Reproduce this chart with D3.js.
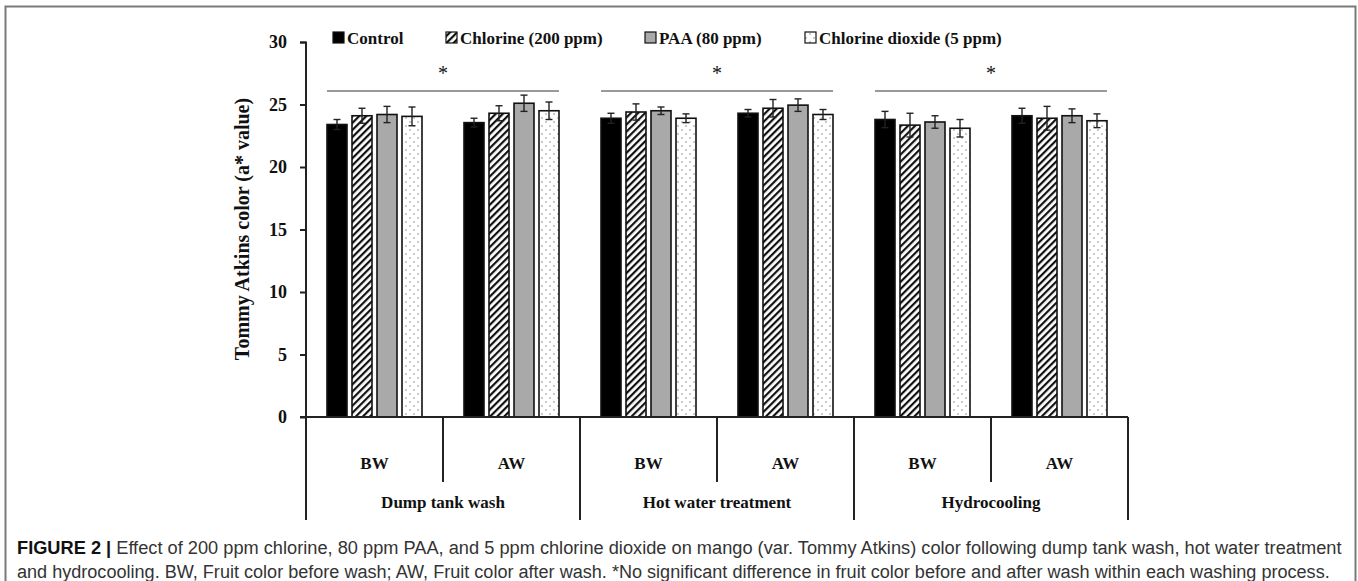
<!DOCTYPE html>
<html>
<head>
<meta charset="utf-8">
<script src="https://cdn.jsdelivr.net/npm/d3@7"></script>
<style>
  body { margin: 0; background: #fff; }
  svg { display: block; }
</style>
</head>
<body>
<svg width="1358" height="581"></svg>
<script>
// categories
const processes = ["Dump tank wash", "Hot water treatment", "Hydrocooling"];
const stages = ["BW", "AW"];
const treatments = ["Control", "Chlorine (200 ppm)", "PAA (80 ppm)", "Chlorine dioxide (5 ppm)"];

// a* values, order: DT-BW, DT-AW, HW-BW, HW-AW, HC-BW, HC-AW
const control  = [23.4, 23.55, 23.9, 24.3, 23.8, 24.1];
const chlorine = [24.1, 24.3, 24.4, 24.7, 23.35, 23.9];
const paa      = [24.2, 25.1, 24.5, 24.95, 23.6, 24.1];
const clo2     = [24.05, 24.5, 23.9, 24.2, 23.1, 23.7];

const controlErr  = [0.4, 0.35, 0.4, 0.3, 0.65, 0.6];
const chlorineErr = [0.6, 0.6, 0.65, 0.7, 0.95, 0.95];
const paaErr      = [0.65, 0.65, 0.3, 0.5, 0.5, 0.55];
const clo2Err     = [0.75, 0.7, 0.35, 0.4, 0.7, 0.55];

const yTicks = [0, 5, 10, 15, 20, 25, 30];
const sigMarks = ["*", "*", "*"];

const series = [control, chlorine, paa, clo2];
const errs = [controlErr, chlorineErr, paaErr, clo2Err];

const cats = [];
processes.forEach(p => stages.forEach(s => cats.push(p + "|" + s)));

const rows = [];
cats.forEach((c, i) => treatments.forEach((t, j) => {
    rows.push({ cat: c, t: t, j: j, v: series[j][i], e: errs[j][i] });
}));

const svg = d3.select("svg");
const serif = "'Liberation Serif', 'Times New Roman', serif";

// patterns
const defs = svg.append("defs");
const hatch = defs.append("pattern")
    .attr("id", "hatch")
    .attr("patternUnits", "userSpaceOnUse")
    .attr("width", 5).attr("height", 5)
    .attr("patternTransform", "rotate(45)");
hatch.append("rect").attr("width", 5).attr("height", 5).attr("fill", "#fff");
hatch.append("rect").attr("width", 2.2).attr("height", 5).attr("fill", "#111");

const dots = defs.append("pattern")
    .attr("id", "dots")
    .attr("patternUnits", "userSpaceOnUse")
    .attr("width", 8).attr("height", 8);
dots.append("rect").attr("width", 8).attr("height", 8).attr("fill", "#fff");
dots.append("circle").attr("cx", 2).attr("cy", 2).attr("r", 0.8).attr("fill", "#888");
dots.append("circle").attr("cx", 6).attr("cy", 6).attr("r", 0.8).attr("fill", "#888");

const fills = ["#000", "url(#hatch)", "#a9a9a9", "url(#dots)"];

// frame
svg.append("path")
    .attr("d", "M5.5,600 V6.5 H1355.5 V600")
    .attr("fill", "none")
    .attr("stroke", "#7a7a7a")
    .attr("stroke-width", 2);

const x0 = d3.scaleBand().domain(cats).range([306, 1128]);
const x1 = d3.scaleBand().domain(treatments)
    .range([0, 95]).paddingInner(0.2);
const xOff = (x0.bandwidth() - 95) / 2;

const y = d3.scaleLinear().domain([0, 30]).range([417, 42]);

// y axis
const yAxis = svg.append("g")
    .attr("transform", "translate(306,0)")
    .call(d3.axisLeft(y).tickValues(yTicks).tickSize(6).tickPadding(13));
yAxis.select(".domain").attr("stroke", "#222").attr("stroke-width", 2)
    .attr("d", "M-6,42.5H0V417");
yAxis.selectAll(".tick line").attr("stroke", "#222").attr("stroke-width", 2);
yAxis.selectAll(".tick text")
    .attr("font-family", serif)
    .attr("font-weight", "bold")
    .attr("font-size", 18)
    .attr("fill", "#111");

svg.append("text")
    .attr("transform", "translate(249,229) rotate(-90)")
    .attr("text-anchor", "middle")
    .attr("font-family", serif)
    .attr("font-weight", "bold")
    .attr("font-size", 20)
    .attr("fill", "#111")
    .text("Tommy Atkins color (a* value)");

// bars
const bars = svg.append("g");
bars.selectAll("rect")
    .data(rows)
    .join("rect")
    .attr("x", d => x0(d.cat) + xOff + x1(d.t))
    .attr("y", d => y(d.v))
    .attr("width", x1.bandwidth())
    .attr("height", d => y(0) - y(d.v))
    .attr("fill", d => fills[d.j])
    .attr("stroke", "#111")
    .attr("stroke-width", 1.6);

// error bars
const eb = svg.append("g").attr("stroke", "#222").attr("stroke-width", 1.4);
rows.forEach(d => {
    const cx = x0(d.cat) + xOff + x1(d.t) + x1.bandwidth() / 2;
    eb.append("line").attr("x1", cx).attr("x2", cx)
        .attr("y1", y(d.v - d.e)).attr("y2", y(d.v + d.e));
    [d.v - d.e, d.v + d.e].forEach(v => {
        eb.append("line").attr("x1", cx - 3.5).attr("x2", cx + 3.5)
            .attr("y1", y(v)).attr("y2", y(v));
    });
});

// x axis (zero line + category boxes)
const ax = svg.append("g").attr("stroke", "#222").attr("stroke-width", 2);
ax.append("line").attr("x1", 300).attr("x2", 1128).attr("y1", 417).attr("y2", 417);
cats.forEach((c, i) => {
    const xl = x0(c);
    const isGroup = i % 2 === 0;
    ax.append("line").attr("x1", xl).attr("x2", xl)
        .attr("y1", 417).attr("y2", isGroup ? 520 : 482);
});
ax.append("line").attr("x1", 1128).attr("x2", 1128).attr("y1", 417).attr("y2", 520);

const lab = svg.append("g")
    .attr("font-family", serif)
    .attr("font-weight", "bold")
    .attr("fill", "#111")
    .attr("text-anchor", "middle");
cats.forEach(c => {
    lab.append("text")
        .attr("x", x0(c) + x0.bandwidth() / 2)
        .attr("y", 469)
        .attr("font-size", 17)
        .text(c.split("|")[1]);
});
processes.forEach((p, k) => {
    const xa = x0(p + "|" + stages[0]);
    lab.append("text")
        .attr("x", xa + x0.bandwidth())
        .attr("y", 508)
        .attr("font-size", 17)
        .text(p);
});

// significance lines
const sig = svg.append("g");
processes.forEach((p, k) => {
    const xa = x0(p + "|BW") + xOff;
    const xb = x0(p + "|AW") + xOff + 95;
    sig.append("line").attr("x1", xa).attr("x2", xb)
        .attr("y1", 91).attr("y2", 91)
        .attr("stroke", "#777").attr("stroke-width", 1.5);
    sig.append("text")
        .attr("x", (xa + xb) / 2).attr("y", 80)
        .attr("text-anchor", "middle")
        .attr("font-family", serif)
        .attr("font-size", 20)
        .attr("fill", "#111")
        .text(sigMarks[k]);
});

// legend
const legX = [333, 446, 645, 805];
const leg = svg.append("g");
treatments.forEach((t, j) => {
    leg.append("rect")
        .attr("x", legX[j]).attr("y", 32)
        .attr("width", 11).attr("height", 11)
        .attr("fill", fills[j])
        .attr("stroke", "#111").attr("stroke-width", 1.2);
    leg.append("text")
        .attr("x", legX[j] + 14).attr("y", 44)
        .attr("font-family", serif)
        .attr("font-weight", "bold")
        .attr("font-size", 17)
        .attr("fill", "#111")
        .text(t);
});

// caption
const capFont = "'Liberation Sans Narrow', 'Arial Narrow', 'Liberation Sans', Arial, sans-serif";
const cap1 = svg.append("text")
    .attr("y", 554)
    .attr("font-family", capFont)
    .attr("font-size", 19)
    .attr("fill", "#333");
cap1.append("tspan").attr("font-weight", "bold").attr("fill", "#111").text("FIGURE 2 | ");
cap1.append("tspan").text("Effect of 200 ppm chlorine, 80 ppm PAA, and 5 ppm chlorine dioxide on mango (var. Tommy Atkins) color following dump tank wash, hot water treatment");
const cap2 = svg.append("text")
    .attr("y", 578)
    .attr("font-family", capFont)
    .attr("font-size", 19)
    .attr("fill", "#333")
    .text("and hydrocooling. BW, Fruit color before wash; AW, Fruit color after wash. *No significant difference in fruit color before and after wash within each washing process.");

function fitText(sel, x, w) {
    const bw = sel.node().getComputedTextLength();
    const yy = +sel.attr("y");
    sel.attr("y", 0).attr("transform", `translate(${x},${yy}) scale(${w / bw},1)`);
}
fitText(cap1, 17, 1325);
fitText(cap2, 17, 1314);
</script>
</body>
</html>
